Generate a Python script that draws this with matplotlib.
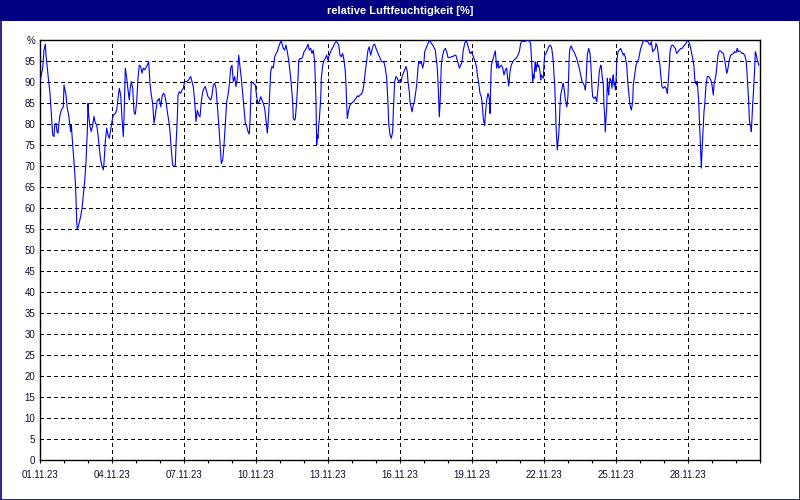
import datetime as dt
import matplotlib
matplotlib.use("Agg")
import matplotlib.pyplot as plt
import matplotlib.dates as mdates
from matplotlib.patches import Rectangle

# ---------------- data (hours since 01.11.23 00:00, relative humidity %) ----------------
hours_1 = [0, 2.7, 4, 5.3, 6, 7.3, 8.7, 10, 10.7, 11.3, 12, 12.7, 14, 14.7, 16, 17, 18, 18.7, 20, 21.3,
           23.3, 24, 24.7, 26, 27.3, 28.7, 30, 30.7, 31.3, 32.7, 34, 35.3, 36, 36.7, 37.3, 38.7, 40.7, 42, 43.3, 44.7,
           46, 47.3, 48, 48.7, 50, 51.3, 52.7, 54, 55.3, 56.7, 58, 59.3, 60.7, 62, 63.3, 64, 65.3, 66.7, 68, 69.3,
           70.7, 72, 73.3, 75.3, 76.7, 78, 79.3, 80.7, 82, 83.3, 84, 85.3, 86.7, 88, 89.3, 90, 91.3, 92.7, 94, 95.3,
           96.7, 98, 99.3, 100.7, 102, 103.3, 104.7, 106.7, 108.7, 110, 111.3, 112.7, 114, 115.3, 117.3]
rh_1 = [90.1, 93.3, 97.6, 99.0, 96.4, 93.3, 90.1, 87.3, 84.9, 82.5, 79.8, 77.4, 77.0, 79.8, 80.2, 78.2, 77.8, 79.8, 82.1, 83.3,
        84.1, 89.3, 88.5, 86.9, 83.7, 82.1, 79.4, 78.2, 79.8, 75.0, 71.0, 66.3, 62.3, 56.8, 54.8, 56.0, 58.0, 59.9, 63.1, 66.3,
        71.0, 78.2, 84.9, 82.1, 79.4, 78.2, 79.8, 81.8, 80.2, 79.8, 77.4, 74.2, 71.4, 69.9, 69.1, 70.7, 75.8, 79.0, 77.4, 76.6,
        78.6, 80.6, 82.1, 82.5, 83.3, 86.1, 88.5, 86.9, 81.3, 77.0, 81.3, 93.3, 90.9, 88.1, 85.7, 88.1, 90.1, 88.5, 82.9, 82.3,
        85.3, 90.9, 94.0, 93.7, 92.1, 93.3, 92.9, 93.7, 94.8, 89.7, 86.9, 84.9, 80.2, 82.1, 85.7]

hours_2 = [118, 119.3, 120.7, 122, 123.3, 124.7, 126, 127.3, 128.7, 130, 131.3, 132.7, 134, 135.3, 136, 137.3, 138, 139.3, 140.7, 142,
           143.3, 144.7, 146.7, 148.7, 150.7, 152, 153.3, 154.7, 156, 157.3, 158.7, 160, 161.3, 162.7, 164, 165.3, 166.7, 168, 169.3, 170.7,
           172, 173.3, 174.7, 176, 177.3, 178.7, 180, 181.3, 182.7, 184, 185.3, 186.7, 188, 189.3, 190.7, 192, 193.3, 194.7, 196, 197.3,
           198.7, 200, 201.3, 202.7, 204, 205.3, 206.7, 208, 209.3, 210, 211.3, 213.3, 215.3, 216.7, 218, 219.3, 220.7, 222, 223.3, 224.7,
           226, 227.3, 228, 229.3, 230.7, 232, 233.3, 234.7, 236, 237.3, 238.7, 240, 241.3]
rh_2 = [85.6, 86.1, 84.1, 86.5, 87.3, 86.9, 85.3, 82.9, 80.9, 78.2, 73.8, 70.2, 69.8, 70.2, 75.0, 81.3, 86.9, 87.7, 87.3, 88.1,
        88.5, 90.1, 90.1, 90.5, 91.3, 90.1, 88.9, 85.3, 80.6, 83.3, 82.1, 81.7, 85.3, 87.7, 88.5, 88.9, 87.7, 86.5, 86.1, 85.7,
        86.9, 89.3, 89.7, 88.5, 84.5, 80.2, 75.4, 70.6, 71.4, 75.0, 79.8, 85.3, 86.9, 89.3, 93.3, 94.0, 90.1, 91.3, 88.9, 90.9,
        96.4, 93.7, 90.9, 87.3, 83.7, 80.2, 79.4, 78.2, 77.6, 80.6, 90.1, 89.7, 89.3, 86.5, 84.9, 85.3, 86.5, 85.7, 84.9, 83.7,
        80.9, 77.8, 79.8, 85.3, 92.5, 93.7, 93.3, 96.0, 96.8, 97.2, 98.4, 99.2, 99.8]

hours_3 = [242, 243.3, 244.7, 246, 247.3, 248.7, 250, 251.3, 252.7, 253.3, 254.7, 255.3, 256.7, 258, 258.7, 260, 261.3, 262.7, 264, 265.3,
           266.7, 268, 269.3, 270.7, 272, 273.3, 274.7, 276, 276.7, 277.3, 278, 278.7, 279.3, 280.7, 281.3, 282.7, 284, 285.3, 286.7, 288,
           288.7, 290, 291.3, 293.3, 294.7, 296, 297.3, 298.7, 300, 301.3, 302.7, 304, 305.3, 306, 306.7, 307.3, 308.7, 310, 311.3, 313.3,
           314.7, 316, 317.3, 318.7, 320, 321.3, 322.7, 324, 325.3, 326.7, 328, 329.3, 330, 330.7, 332, 333.3, 334.7, 336, 337.3, 338.7,
           340, 341.3, 342.7, 344, 345.3, 346.7, 348, 348.7, 350, 351.3, 352.7, 353.3, 354.7, 356, 357.3]
rh_3 = [99.2, 98.0, 97.6, 98.8, 97.2, 95.2, 92.5, 89.3, 85.3, 81.3, 80.9, 81.3, 85.3, 90.9, 95.2, 95.6, 95.5, 96.0, 97.2, 97.6,
        98.2, 99.0, 97.6, 98.0, 96.8, 97.6, 94.8, 85.3, 75.0, 77.4, 76.6, 79.8, 80.9, 86.1, 90.9, 94.0, 95.2, 95.6, 96.4, 95.2,
        96.0, 96.8, 97.6, 98.4, 99.2, 99.6, 99.4, 98.8, 96.4, 96.0, 96.8, 95.2, 92.5, 89.3, 84.5, 81.3, 83.3, 84.5, 84.9, 85.3,
        85.7, 86.1, 86.7, 86.5, 86.9, 87.1, 87.7, 89.7, 92.5, 95.2, 97.6, 98.4, 97.2, 96.4, 97.6, 98.8, 99.0, 98.0, 97.2, 96.4,
        95.8, 94.9, 94.8, 94.7, 93.3, 90.9, 84.9, 80.2, 77.4, 76.6, 78.2, 83.0, 90.1, 91.3, 90.9]

hours_4 = [358.7, 360, 361.3, 362, 363.3, 364.7, 366, 367.3, 368, 369.3, 370, 371.3, 372, 373.3, 374.7, 375.3, 376.7, 378, 378.7, 380,
           381.3, 382.7, 384, 384.7, 386, 387.3, 388.7, 390, 391.3, 392.7, 394, 395.3, 396, 397.3, 398, 398.7, 399.3, 400, 400.7, 401.3,
           402.7, 404, 405.3, 406.7, 408, 409.3, 411.3, 413.3, 414.7, 416, 417.3, 418.7, 419.3, 420.7, 422, 423.3, 424.7, 426, 427.3, 428.7,
           430, 431.3, 432.7, 434, 435.3, 436.7, 437.3, 438.7, 440, 441.3, 442, 442.7, 443.3, 444.7, 445.3, 446.7, 448, 449.3, 450, 450.7,
           451.3, 452.7, 454, 455.3, 456.7, 458, 458.7, 460, 461.3, 462.7, 464, 465.3, 466.7, 467.3, 468.7, 469.3, 470, 471.3, 472.7, 474,
           475.3, 476.7, 478, 479.3]
rh_4 = [90.1, 90.5, 90.1, 91.3, 92.1, 92.9, 93.7, 92.5, 90.1, 87.7, 85.3, 83.7, 82.9, 84.5, 85.7, 86.9, 89.3, 93.3, 94.8, 94.4,
        94.8, 93.3, 94.8, 97.2, 98.0, 98.8, 99.6, 99.8, 99.2, 98.8, 98.2, 97.6, 96.0, 93.3, 90.1, 85.3, 81.7, 84.5, 89.3, 94.0,
        96.4, 97.6, 98.0, 97.2, 95.8, 95.8, 96.0, 96.1, 96.4, 96.3, 95.2, 94.0, 93.3, 94.0, 94.8, 97.6, 99.2, 99.8, 99.2, 98.0,
        96.8, 97.2, 96.4, 95.6, 94.8, 93.3, 91.7, 89.7, 87.3, 86.5, 85.3, 83.3, 81.3, 79.6, 82.1, 85.7, 87.3, 86.1, 82.5, 89.3,
        94.0, 95.2, 96.4, 97.4, 93.3, 94.8, 93.3, 93.7, 94.0, 93.3, 91.7, 92.9, 93.3, 91.7, 89.0, 90.5, 92.5, 94.0, 94.8, 95.2,
        95.5, 95.8, 96.4, 97.2]

hours_5 = [480.7, 482, 484, 486, 487.3, 488.7, 490, 490.7, 491.3, 492, 492.7, 493.3, 494, 494.7, 495.3, 496, 496.7, 497.3, 498, 498.7,
           499.3, 500, 500.7, 501.3, 502, 503.3, 504, 504.7, 506, 507.3, 508.7, 510, 511.3, 512, 513.3, 514, 514.7, 515.3, 516, 516.7,
           517.3, 518, 518.7, 519.3, 520, 520.7, 522, 522.7, 523.3, 524, 524.7, 525.3, 526, 526.7, 527.3, 528, 528.7, 529.3, 530, 531.3,
           532.7, 534, 535.3, 536.7, 538, 539.3, 540.7, 542, 543.3, 544.7, 545.3, 546, 546.7, 547.3, 548.7, 550, 550.7, 551.3, 552, 552.7,
           554, 555.3, 556.7, 558, 559.3, 560.7, 561.3, 562, 563.3, 564, 564.7, 565.3, 566, 566.7, 567.3, 568, 568.7, 569.3, 570, 571.3,
           572, 572.7, 573.3, 574, 574.7, 575.3, 576, 576.7, 578, 579.3, 580.7, 582, 583.3, 584, 585.3, 586.7, 588, 589.3, 590, 591.3,
           592.7, 593.3, 594.7, 596, 597.3, 598.7]
rh_5 = [99.2, 99.8, 99.6, 99.8, 100.0, 99.8, 99.6, 98.8, 96.4, 93.3, 90.1, 91.7, 90.9, 93.3, 94.8, 92.5, 93.7, 94.8, 93.7, 94.0,
        93.3, 92.5, 90.5, 91.7, 91.3, 90.9, 94.4, 96.4, 96.8, 97.6, 98.4, 98.8, 98.4, 97.6, 94.8, 91.7, 89.3, 85.3, 79.8, 76.6,
        73.8, 75.8, 77.4, 79.8, 84.5, 86.9, 88.5, 89.3, 89.7, 88.5, 87.3, 85.7, 85.3, 84.1, 84.9, 86.9, 91.7, 96.4, 98.0, 98.6,
        97.6, 97.2, 96.4, 95.6, 94.4, 93.3, 91.7, 90.1, 89.7, 88.9, 88.1, 90.1, 93.3, 96.4, 98.0, 96.8, 94.8, 91.7, 88.5, 86.5,
        86.1, 86.5, 85.3, 88.5, 92.5, 94.0, 93.7, 91.7, 89.3, 84.5, 81.7, 78.1, 81.3, 83.7, 90.9, 88.5, 86.9, 89.3, 90.9, 90.1,
        88.5, 90.9, 91.7, 89.3, 89.7, 88.1, 90.1, 94.8, 97.2, 97.6, 98.0, 97.2, 96.4, 96.8, 96.0, 94.0, 89.3, 86.1, 84.5, 83.3,
        85.3, 89.3, 91.7, 94.0, 94.8, 95.6]

hours_6 = [600.7, 602, 603.3, 604.7, 606, 607.3, 608.7, 610, 611.3, 612, 612.7, 614, 615.3, 616, 616.7, 617.3, 618, 618.7, 620, 620.7,
           621.3, 622, 623.3, 624.7, 626, 626.7, 627.3, 628, 629.3, 630, 631.3, 632.7, 634, 635.3, 636.7, 638, 639.3, 640.7, 642, 643.3,
           644.7, 646, 647.3, 648.7, 650, 651.3, 652.7, 654, 654.7, 655.3, 656, 656.7, 657.3, 658, 658.7, 659.3, 660, 660.7, 661.3, 662,
           662.7, 663.3, 664, 664.7, 666, 667.3, 668.7, 670, 671.3, 672, 672.7, 673.3, 674, 674.7, 676, 676.7, 678, 679.3, 680.7, 682,
           683.3, 684.7, 686, 686.7, 687.3, 688, 689.3, 690.7, 692, 693.3, 694.7, 696, 696.7, 697.3, 698, 699.3, 700.7, 702, 703.3, 704.7,
           706, 706.7, 707.3, 708, 708.7, 709.3, 710, 710.7, 711.3, 712, 712.7, 713.3, 714, 714.7, 715.3, 716, 716.7, 717.3, 718, 718.7]
rh_6 = [98.0, 98.8, 99.8, 100.0, 99.6, 99.8, 99.2, 98.8, 99.6, 98.4, 97.2, 97.6, 98.0, 99.2, 98.8, 98.4, 97.2, 95.6, 94.0, 91.7,
        90.5, 88.9, 88.5, 88.9, 88.5, 88.1, 87.3, 89.3, 94.0, 97.2, 98.6, 98.8, 98.4, 98.0, 96.8, 97.2, 97.6, 98.0, 98.0, 98.4,
        98.8, 99.2, 99.8, 99.6, 98.8, 97.2, 95.6, 93.7, 90.9, 89.7, 90.1, 89.3, 90.1, 87.7, 85.3, 81.7, 77.4, 73.4, 69.5, 73.4,
        76.6, 79.8, 83.0, 84.5, 89.3, 91.3, 91.3, 90.9, 90.1, 89.3, 88.1, 86.9, 89.3, 90.1, 91.7, 93.3, 96.4, 97.4, 97.4, 97.0,
        96.8, 95.2, 93.3, 92.1, 92.5, 93.3, 95.2, 96.4, 96.6, 96.8, 97.2, 97.0, 97.6, 98.0, 97.2, 97.4, 97.2, 96.8, 96.8, 96.4,
        95.2, 93.3, 90.9, 87.7, 85.3, 81.3, 79.8, 79.4, 78.2, 81.3, 84.9, 86.9, 90.1, 93.3, 97.2, 96.8, 96.0, 95.2, 94.8, 94.0]

x_tick_labels = ["01.11.23", "04.11.23", "07.11.23", "10.11.23", "13.11.23",
                 "16.11.23", "19.11.23", "22.11.23", "25.11.23", "28.11.23"]
y_tick_values = list(range(0, 101, 5))
y_tick_labels = [str(v) for v in y_tick_values[:-1]] + ["%"]
title = "relative Luftfeuchtigkeit [%]"

# ---------------- assemble ----------------
hours, rh = [], []
for h, v in [(hours_1, rh_1), (hours_2, rh_2), (hours_3, rh_3),
             (hours_4, rh_4), (hours_5, rh_5), (hours_6, rh_6)]:
    assert len(h) == len(v), (len(h), len(v))
    hours += h
    rh += v

start = dt.datetime(2023, 11, 1)
end = dt.datetime(2023, 12, 1)
times = [start + dt.timedelta(hours=h) for h in hours]

plt.rcParams["font.family"] = ["Liberation Sans", "DejaVu Sans"]

W, H = 800, 500
fig = plt.figure(figsize=(8, 5), dpi=100, facecolor="white")
navy = "#000080"

# title bar and frame
fig.patches.append(Rectangle((0, 1 - 21 / H), 1, 21 / H, transform=fig.transFigure,
                             facecolor=navy, edgecolor="none", zorder=0))
fig.patches.append(Rectangle((0.5 / W, 0.5 / H), 1 - 1 / W, 1 - 1 / H, transform=fig.transFigure,
                             facecolor="none", edgecolor=navy, linewidth=1.2, zorder=5))
fig.text(0.5, 1 - 10.5 / H, title, color="white", fontweight="bold", fontsize=8,
         ha="center", va="center")

ax = fig.add_axes([40 / W, 40 / H, 720 / W, 420 / H])
ax.set_facecolor("white")
ax.plot(times, rh, color="#0000FF", linewidth=0.8, zorder=3)

ax.set_xlim(start, end)
ax.set_ylim(0, 100)

xt = [dt.datetime.strptime(s, "%d.%m.%y") for s in x_tick_labels]
ax.set_xticks(xt)
ax.set_xticklabels(x_tick_labels)
ax.xaxis.set_minor_locator(mdates.DayLocator())
ax.set_yticks(y_tick_values)
ax.set_yticklabels(y_tick_labels)

ax.tick_params(axis="x", which="both", direction="out", length=2.5, width=0.8,
               labelsize=7, pad=5, colors="black", labelcolor="#101030")
ax.tick_params(axis="y", which="both", length=0, labelsize=7, pad=3.5, labelcolor="#101030")

ax.grid(True, which="major", color="black", linestyle=(0, (3, 3)), linewidth=0.72,
        antialiased=False, zorder=1)
for s in ax.spines.values():
    s.set_color("black")
    s.set_linewidth(1.0)

fig.savefig("out.png", dpi=100, facecolor="white")
